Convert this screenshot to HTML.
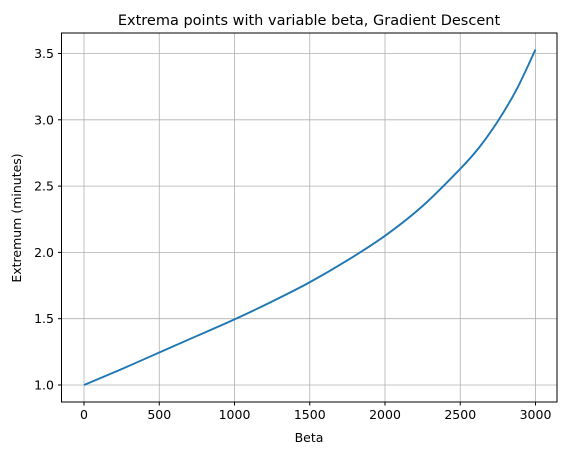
<!DOCTYPE html>
<html><head><meta charset="utf-8"><style>
body{margin:0;background:#fff;}
svg{display:block;font-family:"DejaVu Sans","Liberation Sans",sans-serif;}
</style></head><body>
<svg id="chart" width="567" height="455">
<text x="309" y="25" text-anchor="middle" font-size="14.5">Extrema points with variable beta, Gradient Descent</text>
<g id="grid"></g>
<g id="ticks"></g>
<path id="line" fill="none" stroke="#1f77b4" stroke-width="1.9" stroke-linejoin="round"/>
<rect x="61.5" y="33" width="495.5" height="369" fill="none" stroke="#000" stroke-width="1"/>
<text x="309" y="442" text-anchor="middle" font-size="12.5">Beta</text>
<text transform="translate(21,218) rotate(-90)" text-anchor="middle" font-size="12.5">Extremum (minutes)</text>
</svg>
<script>
const betas=[0,250,500,750,1000,1250,1500,1750,2000,2250,2500,2625,2750,2875,3000];
const extrema=[1.0,1.12,1.245,1.37,1.495,1.63,1.775,1.94,2.125,2.35,2.63,2.79,2.99,3.23,3.53];
const xTicks=[0,500,1000,1500,2000,2500,3000];
const yTicks=[1.0,1.5,2.0,2.5,3.0,3.5];
const xs=v=>84+(v/3000)*451.5;
const ys=v=>385-(v-1)*(331.5/2.5);
const ns="http://www.w3.org/2000/svg";
const grid=document.getElementById('grid'),ticks=document.getElementById('ticks');
function mk(tag,attrs,parent){const e=document.createElementNS(ns,tag);for(const k in attrs)e.setAttribute(k,attrs[k]);parent.appendChild(e);return e;}
xTicks.forEach(t=>{const x=xs(t);
const g=mk('line',{x1:x,x2:x,y1:33,y2:402,stroke:'#b0b0b0','stroke-width':0.8},grid);


const tk=mk('line',{x1:x,x2:x,y1:402,y2:405.5,stroke:'#000'},ticks);


const l=mk('text',{x:x,y:419,'text-anchor':'middle','font-size':12.5},ticks);l.textContent=t;

});
yTicks.forEach(t=>{const y=ys(t);
const g=mk('line',{x1:61.5,x2:557,y1:y,y2:y,stroke:'#b0b0b0','stroke-width':0.8},grid);


const tk=mk('line',{x1:58,x2:61.5,y1:y,y2:y,stroke:'#000'},ticks);


const l=mk('text',{x:54,y:y+4.5,'text-anchor':'end','font-size':12.5},ticks);l.textContent=t.toFixed(1);

});
const pts=betas.map((b,i)=>[xs(b),ys(extrema[i])]);
let d='M'+pts[0][0]+','+pts[0][1];
for(let i=0;i<pts.length-1;i++){
  const p0=pts[Math.max(0,i-1)],p1=pts[i],p2=pts[i+1],p3=pts[Math.min(pts.length-1,i+2)];
  const c1=[p1[0]+(p2[0]-p0[0])/6,p1[1]+(p2[1]-p0[1])/6];
  const c2=[p2[0]-(p3[0]-p1[0])/6,p2[1]-(p3[1]-p1[1])/6];
  d+=' C'+c1[0]+','+c1[1]+' '+c2[0]+','+c2[1]+' '+p2[0]+','+p2[1];
}
document.getElementById('line').setAttribute('d',d);
</script>
</body></html>
